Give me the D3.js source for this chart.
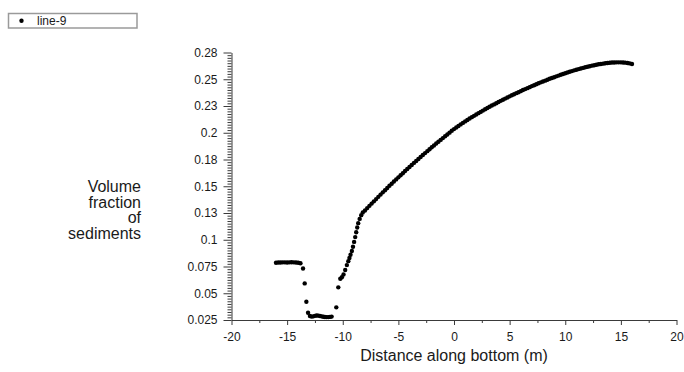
<!DOCTYPE html>
<html>
<head>
<meta charset="utf-8">
<script src="https://cdn.jsdelivr.net/npm/d3@7/dist/d3.min.js"></script>
<style>
  html, body { margin: 0; padding: 0; background: #fff; }
  svg { display: block; }
  text { font-family: "Liberation Sans", Arial, sans-serif; }
</style>
</head>
<body>
<svg id="chart" width="684" height="372"></svg>
<script>
// Series "line-9": distance along bottom (m) and sediment volume fraction
const distance = [
  -16.0, -15.8, -15.6, -15.4, -15.2, -15.0, -14.8, -14.6, -14.4, -14.2, -14.0, -13.8,
  -13.57, -13.42, -13.27, -13.12,
  -12.95, -12.80, -12.65, -12.50, -12.35, -12.20, -12.05, -11.90, -11.75, -11.60, -11.45, -11.30, -11.15, -11.00,
  -10.58, -10.40, -10.22, -10.08, -9.93, -9.78, -9.63, -9.50, -9.40, -9.30, -9.18, -9.08, -8.98, -8.88, -8.79, -8.70, -8.61, -8.48, -8.34, -8.20,
  -8.0, -7.8, -7.6, -7.4, -7.2, -7.0, -6.8, -6.6, -6.4, -6.2,
  -6.0, -5.8, -5.6, -5.4, -5.2, -5.0, -4.8, -4.6, -4.4, -4.2,
  -4.0, -3.8, -3.6, -3.4, -3.2, -3.0, -2.8, -2.6, -2.4, -2.2,
  -2.0, -1.8, -1.6, -1.4, -1.2, -1.0, -0.8, -0.6, -0.4, -0.2,
  0.0, 0.2, 0.4, 0.6, 0.8, 1.0, 1.2, 1.4, 1.6, 1.8,
  2.0, 2.2, 2.4, 2.6, 2.8, 3.0, 3.2, 3.4, 3.6, 3.8,
  4.0, 4.2, 4.4, 4.6, 4.8, 5.0, 5.2, 5.4, 5.6, 5.8,
  6.0, 6.2, 6.4, 6.6, 6.8, 7.0, 7.2, 7.4, 7.6, 7.8,
  8.0, 8.2, 8.4, 8.6, 8.8, 9.0, 9.2, 9.4, 9.6, 9.8,
  10.0, 10.2, 10.4, 10.6, 10.8, 11.0, 11.2, 11.4, 11.6, 11.8,
  12.0, 12.2, 12.4, 12.6, 12.8, 13.0, 13.2, 13.4, 13.6, 13.8,
  14.0, 14.2, 14.4, 14.6, 14.8, 15.0, 15.2, 15.4, 15.6, 15.8, 16.0
];
const volumeFraction = [
  0.0785, 0.0787, 0.0788, 0.0789, 0.0789, 0.0788, 0.0789, 0.0790, 0.0789, 0.0787, 0.0785, 0.0781,
  0.0732, 0.0592, 0.0420, 0.0318,
  0.0288, 0.0282, 0.0284, 0.0289, 0.0292, 0.0291, 0.0288, 0.0284, 0.0281, 0.0278, 0.0277, 0.0277, 0.0279, 0.0282,
  0.0368, 0.0555, 0.0635, 0.0650, 0.0675, 0.0717, 0.0763, 0.0800, 0.0830, 0.0860, 0.0895, 0.0935, 0.0980, 0.1025, 0.1070, 0.1115, 0.1155, 0.1195, 0.1230, 0.1255,
  0.1274, 0.1296, 0.1317, 0.1338, 0.1359, 0.1380, 0.1401, 0.1422, 0.1443, 0.1463,
  0.1484, 0.1504, 0.1524, 0.1544, 0.1564, 0.1583, 0.1603, 0.1622, 0.1642, 0.1661,
  0.1680, 0.1699, 0.1718, 0.1736, 0.1755, 0.1773, 0.1792, 0.1810, 0.1828, 0.1846,
  0.1864, 0.1881, 0.1899, 0.1916, 0.1933, 0.1950, 0.1967, 0.1984, 0.2001, 0.2018,
  0.2034, 0.2049, 0.2063, 0.2078, 0.2092, 0.2106, 0.2119, 0.2133, 0.2146, 0.2158,
  0.2171, 0.2183, 0.2195, 0.2207, 0.2219, 0.2231, 0.2243, 0.2254, 0.2265, 0.2276,
  0.2287, 0.2298, 0.2308, 0.2319, 0.2329, 0.2340, 0.2350, 0.2360, 0.2370, 0.2379,
  0.2389, 0.2399, 0.2408, 0.2417, 0.2426, 0.2436, 0.2444, 0.2453, 0.2462, 0.2471,
  0.2479, 0.2487, 0.2496, 0.2504, 0.2511, 0.2519, 0.2527, 0.2534, 0.2542, 0.2549,
  0.2556, 0.2563, 0.2570, 0.2576, 0.2583, 0.2589, 0.2595, 0.2601, 0.2606, 0.2612,
  0.2617, 0.2622, 0.2627, 0.2631, 0.2636, 0.2640, 0.2643, 0.2646, 0.2649, 0.2652,
  0.2654, 0.2656, 0.2657, 0.2658, 0.2658, 0.2658, 0.2657, 0.2655, 0.2652, 0.2648, 0.2643
];

// Axis ticks
const xTickValues = [-20, -15, -10, -5, 0, 5, 10, 15, 20];
const xTickLabels = ["-20", "-15", "-10", "-5", "0", "5", "10", "15", "20"];
const yTickValues = [0.025, 0.05, 0.075, 0.1, 0.125, 0.15, 0.175, 0.2, 0.225, 0.25, 0.275];
const yTickLabels = ["0.025", "0.05", "0.075", "0.1", "0.13", "0.15", "0.18", "0.2", "0.23", "0.25", "0.28"];

const seriesName = "line-9";
const xTitle = "Distance along bottom (m)";
const yTitle = ["Volume", "fraction", "of", "sediments"];

const svg = d3.select("#chart");
svg.append("rect").attr("width", 684).attr("height", 372).attr("fill", "#fff");

const x = d3.scaleLinear().domain([-20, 20]).range([231.5, 676.5]);
const y = d3.scaleLinear().domain([0.025, 0.275]).range([320, 52.5]);

const axisColor = "#3a3a3a";
const textColor = "#1a1a1a";

// Minor ticks
const xMinor = d3.range(-20, 20.001, 2.5).filter(v => !xTickValues.includes(v));
const yMinor = d3.range(0, 101).map(i => +(0.025 + i * 0.0025).toFixed(4))
  .filter(v => v <= 0.2751 && !yTickValues.some(t => Math.abs(t - v) < 1e-6));

svg.append("g")
  .attr("transform", `translate(0,${y(0.025)})`)
  .call(d3.axisBottom(x).tickValues(xMinor).tickSize(3).tickSizeOuter(0).tickFormat(""))
  .call(g => g.select(".domain").remove())
  .call(g => g.selectAll("line").attr("stroke", axisColor));

svg.append("g")
  .attr("transform", `translate(${x(-20)},0)`)
  .call(d3.axisLeft(y).tickValues(yMinor).tickSize(4).tickSizeOuter(0).tickFormat(""))
  .call(g => g.select(".domain").remove())
  .call(g => g.selectAll("line").attr("stroke", axisColor));

// Major axes
const xAxis = svg.append("g")
  .attr("transform", `translate(0,${y(0.025)})`)
  .call(d3.axisBottom(x).tickValues(xTickValues).tickSize(5).tickPadding(7).tickSizeOuter(0)
    .tickFormat((d, i) => xTickLabels[i]));
xAxis.select(".domain").attr("stroke", axisColor);
xAxis.selectAll("line").attr("stroke", axisColor);
xAxis.selectAll("text").attr("fill", textColor).attr("font-size", 12)
  .attr("font-family", '"Liberation Sans", Arial, sans-serif');

const yAxis = svg.append("g")
  .attr("transform", `translate(${x(-20)},0)`)
  .call(d3.axisLeft(y).tickValues(yTickValues).tickSize(8).tickPadding(6).tickSizeOuter(0)
    .tickFormat((d, i) => yTickLabels[i]));
yAxis.select(".domain").attr("stroke", axisColor);
yAxis.selectAll("line").attr("stroke", axisColor);
yAxis.selectAll("text").attr("fill", textColor).attr("font-size", 12)
  .attr("font-family", '"Liberation Sans", Arial, sans-serif');

// Axis titles
svg.append("text")
  .attr("x", x(0)).attr("y", 361)
  .attr("text-anchor", "middle")
  .attr("font-size", 16)
  .attr("fill", textColor)
  .text(xTitle);

const yt = svg.append("text")
  .attr("text-anchor", "end")
  .attr("font-size", 16)
  .attr("fill", textColor);
yTitle.forEach((line, i) => {
  yt.append("tspan").attr("x", 141).attr("y", 192 + i * 15.5).text(line);
});

// Data points
const points = distance.map((d, i) => ({ d, v: volumeFraction[i] }));
svg.append("g")
  .selectAll("circle")
  .data(points)
  .join("circle")
  .attr("cx", p => x(p.d))
  .attr("cy", p => y(p.v))
  .attr("r", 2.2)
  .attr("fill", "#000");

// Legend
const legend = svg.append("g");
legend.append("rect")
  .attr("x", 8.5).attr("y", 13.5).attr("width", 128.5).attr("height", 14.5)
  .attr("fill", "#fff").attr("stroke", "#9a9a9a").attr("stroke-width", 1.5);
legend.append("circle").attr("cx", 21.5).attr("cy", 20.8).attr("r", 2.2).attr("fill", "#000");
legend.append("text")
  .attr("x", 37).attr("y", 25)
  .attr("font-size", 12)
  .attr("fill", textColor)
  .text(seriesName);
</script>
</body>
</html>
